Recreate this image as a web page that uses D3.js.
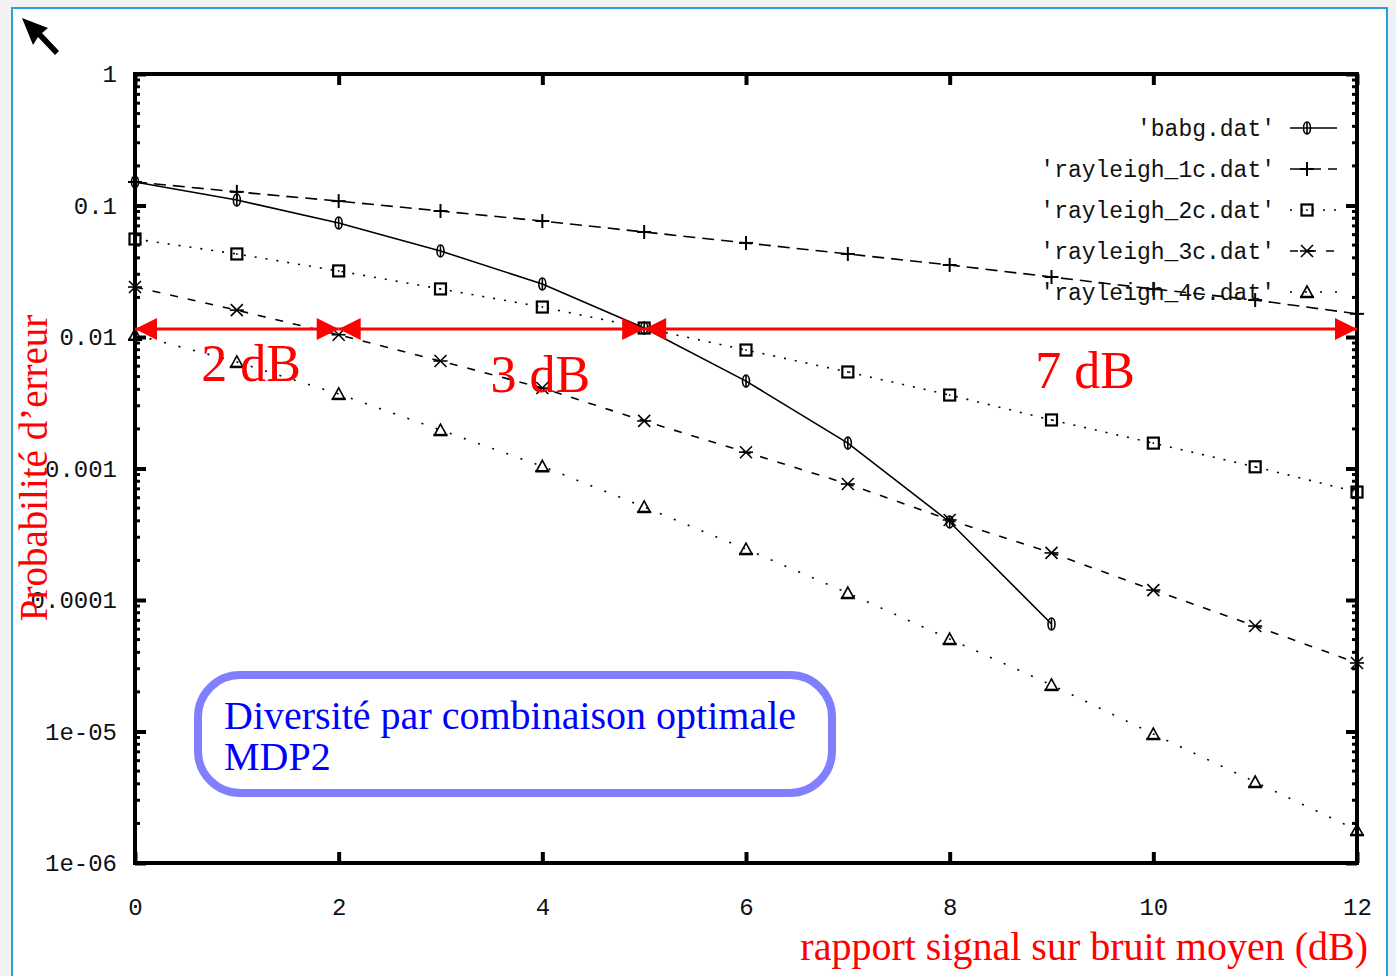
<!DOCTYPE html>
<html><head><meta charset="utf-8">
<script src="https://cdn.jsdelivr.net/npm/d3@7"></script>
<style>
html,body{margin:0;padding:0;background:#f2f2f2;}
svg{display:block;}
</style></head>
<body>
<svg id="c" width="1396" height="976"></svg>
<script>
// ---------- data ----------
const snr = [0,1,2,3,4,5,6,7,8,9,10,11,12];
const babg        = [0.151,0.110,0.0736,0.0451,0.0253,0.0117,0.00462,0.00156,0.000392,0.0000657];
const rayleigh1c  = [0.151,0.127,0.108,0.0908,0.0762,0.0629,0.0519,0.0428,0.0353,0.0286,0.0232,0.0191,0.0150];
const rayleigh2c  = [0.0556,0.0428,0.0318,0.0232,0.0169,0.0117,0.00796,0.00542,0.00362,0.00234,0.00156,0.00103,0.000662];
const rayleigh3c  = [0.0240,0.0160,0.0104,0.00657,0.00409,0.00230,0.00133,0.000762,0.000406,0.000228,0.000119,0.0000634,0.0000332];
const rayleigh4c  = [0.0104,0.00646,0.00369,0.00196,0.00104,0.000510,0.000244,0.000113,0.0000505,0.0000226,0.00000957,0.00000413,0.00000178];
const seriesNames = ["'babg.dat'","'rayleigh_1c.dat'","'rayleigh_2c.dat'","'rayleigh_3c.dat'","'rayleigh_4c.dat'"];
const xTicks = [0,2,4,6,8,10,12];
const yTicks = [1,0.1,0.01,0.001,0.0001,1e-5,1e-6];
const yTickLabels = ["1","0.1","0.01","0.001","0.0001","1e-05","1e-06"];
const gainSegments = [[0,2],[2,5],[5,12]];
const gainLevel = 0.0115;
const gainLabels = ["2 dB","3 dB","7 dB"];
const gainLabelPos = [[0.65,0.00465],[3.49,0.00379],[8.84,0.00413]];
const xTitle = "rapport signal sur bruit moyen (dB)";
const yTitle = "Probabilité d’erreur";
const boxLines = ["Diversité par combinaison optimale","MDP2"];

// ---------- setup ----------
const svg = d3.select("#c");
const L=135,R=1357,T=74,B=863;
const x = d3.scaleLinear().domain([0,12]).range([L,R]);
const y = d3.scaleLog().domain([1e-6,1]).range([B,T]);

// frame
svg.append("rect").attr("x",12).attr("y",8).attr("width",1375).attr("height",980)
  .attr("fill","#fff").attr("stroke","#2d9fd4").attr("stroke-width",2);
svg.append("rect").attr("x",1388).attr("y",8).attr("width",8).attr("height",968).attr("fill","#e8f2f8");

// cursor arrow
svg.append("path")
  .attr("d","M22,18 L48,28 L42,33 L59,51 L55,55 L38,37 L33,45 Z")
  .attr("fill","#000");

const monoFont = "'Liberation Mono','DejaVu Sans Mono',monospace";
const serif = "'Liberation Serif','DejaVu Serif',serif";

// axes
const fmt = d => yTickLabels[yTicks.indexOf(d)];
const gL = svg.append("g").attr("transform",`translate(${L},0)`)
  .call(d3.axisLeft(y).tickValues(yTicks).tickFormat(fmt).tickSize(-11).tickPadding(18));
const gRt = svg.append("g").attr("transform",`translate(${R},0)`)
  .call(d3.axisRight(y).tickValues(yTicks).tickFormat("").tickSize(-11));
const gB = svg.append("g").attr("transform",`translate(0,${B})`)
  .call(d3.axisBottom(x).tickValues(xTicks).tickFormat(d3.format("d")).tickSize(-11).tickPadding(35));
const gT = svg.append("g").attr("transform",`translate(0,${T})`)
  .call(d3.axisTop(x).tickValues(xTicks).tickFormat("").tickSize(-11));
[gL,gRt,gB,gT].forEach(g=>{
  g.select(".domain").remove();
  g.selectAll(".tick line").attr("stroke","#000").attr("stroke-width",4);
  g.selectAll("text").attr("font-family",monoFont).attr("font-size",24).attr("fill","#111");
});
// minor ticks
const minors=[];
for(let e=-6;e<0;e++) for(let k=2;k<=9;k++) minors.push(k*Math.pow(10,e));
const gm = svg.append("g");
gm.selectAll(".ml").data(minors).enter().append("line")
  .attr("x1",L).attr("x2",L+5).attr("y1",d=>y(d)).attr("y2",d=>y(d))
  .attr("stroke","#000").attr("stroke-width",3);
gm.selectAll(".mr").data(minors).enter().append("line")
  .attr("x1",R-5).attr("x2",R).attr("y1",d=>y(d)).attr("y2",d=>y(d))
  .attr("stroke","#000").attr("stroke-width",3);

// plot border
svg.append("rect").attr("x",L).attr("y",T).attr("width",R-L).attr("height",B-T)
  .attr("fill","none").attr("stroke","#000").attr("stroke-width",4);

// series
const series = [babg,rayleigh1c,rayleigh2c,rayleigh3c,rayleigh4c];
const dashes = [null,"12,7","2,9","8,10","2,13"];
const line = d3.line().x((d,i)=>x(snr[i])).y(d=>y(d));
const gS = svg.append("g");

function marker(g,type,cx,cy){
  const s = g.append("g").attr("transform",`translate(${cx},${cy})`)
    .attr("stroke","#000").attr("fill","none").attr("stroke-width",1.6);
  if(type===0){ // diamond / oval
    s.append("ellipse").attr("rx",3.5).attr("ry",6);
    s.append("line").attr("x1",0).attr("x2",0).attr("y1",-6).attr("y2",6);
  } else if(type===1){ // plus
    s.append("line").attr("x1",-7).attr("x2",7).attr("stroke-width",2);
    s.append("line").attr("y1",-7).attr("y2",7).attr("stroke-width",2);
  } else if(type===2){ // box
    s.append("rect").attr("x",-5.5).attr("y",-5.5).attr("width",11).attr("height",11).attr("stroke-width",2.2);
    s.append("rect").attr("x",-0.8).attr("y",-0.8).attr("width",1.6).attr("height",1.6).attr("fill","#000").attr("stroke","none");
  } else if(type===3){ // cross
    s.append("line").attr("x1",-6).attr("x2",6).attr("y1",-6).attr("y2",6);
    s.append("line").attr("x1",-6).attr("x2",6).attr("y1",6).attr("y2",-6);
    s.append("line").attr("x1",-7).attr("x2",7).attr("y1",0).attr("y2",0);
  } else { // triangle
    s.append("path").attr("d","M0,-6 L6,5 L-6,5 Z");
    s.append("line").attr("x1",-7).attr("x2",7).attr("y1",5).attr("y2",5).attr("stroke-width",2.5);
  }
}

series.forEach((vals,si)=>{
  gS.append("path").datum(vals).attr("d",line).attr("fill","none")
    .attr("stroke","#000").attr("stroke-width",1.6)
    .attr("stroke-dasharray",dashes[si]);
  vals.forEach((v,i)=>marker(gS,si,x(snr[i]),y(v)));
});

// legend
const gLeg = svg.append("g");
seriesNames.forEach((n,i)=>{
  const cy = 128 + i*41;
  gLeg.append("text").attr("x",1275).attr("y",cy).attr("dy","0.35em")
    .attr("text-anchor","end").attr("font-family",monoFont).attr("font-size",23).attr("fill","#111").text(n);
  gLeg.append("line").attr("x1",1290).attr("x2",1337).attr("y1",cy).attr("y2",cy)
    .attr("stroke","#000").attr("stroke-width",1.6).attr("stroke-dasharray",dashes[i]);
  marker(gLeg,i,1307,cy);
});

// red gain arrows
const defs = svg.append("defs");
defs.append("marker").attr("id","ah").attr("viewBox","0 0 10 10").attr("refX",10).attr("refY",5)
  .attr("markerUnits","userSpaceOnUse").attr("markerWidth",28).attr("markerHeight",22)
  .attr("orient","auto-start-reverse")
  .append("path").attr("d","M0,0 L10,5 L0,10 Z").attr("fill","#ff0000");
const gA = svg.append("g");
gainSegments.forEach(([a,b])=>{
  gA.append("line").attr("x1",x(a)).attr("x2",x(b)).attr("y1",y(gainLevel)).attr("y2",y(gainLevel))
    .attr("stroke","#ff0000").attr("stroke-width",3)
    .attr("marker-start","url(#ah)").attr("marker-end","url(#ah)");
});
gainLabels.forEach((t,i)=>{
  gA.append("text").attr("x",x(gainLabelPos[i][0])).attr("y",y(gainLabelPos[i][1]))
    .attr("font-family",serif).attr("font-size",52).attr("fill","#ff0000").text(t);
});

// axis titles
svg.append("text").attr("x",1368).attr("y",960).attr("text-anchor","end")
  .attr("font-family",serif).attr("font-size",40).attr("fill","#ff0000").text(xTitle);
svg.append("text").attr("transform","translate(47,468) rotate(-90)").attr("text-anchor","middle")
  .attr("font-family",serif).attr("font-size",39).attr("fill","#ff0000").text(yTitle);

// annotation box
svg.append("rect").attr("x",198).attr("y",675).attr("width",634).attr("height",118)
  .attr("rx",42).attr("ry",42).attr("fill","none").attr("stroke","#8080ff").attr("stroke-width",8);
boxLines.forEach((t,i)=>{
  svg.append("text").attr("x",224).attr("y",729+i*41)
    .attr("font-family",serif).attr("font-size",40).attr("fill","#0000ff").text(t);
});
</script>
</body></html>
